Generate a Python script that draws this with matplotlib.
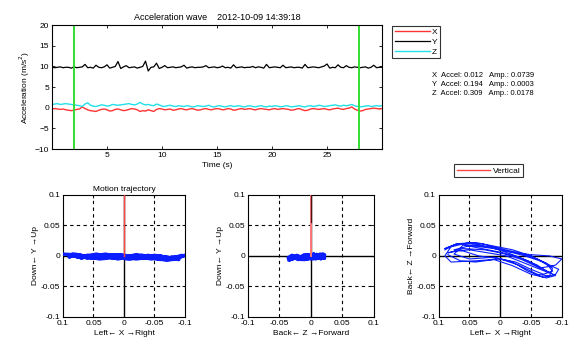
import matplotlib
matplotlib.use("Agg")
import matplotlib.pyplot as plt
import numpy as np
from matplotlib.lines import Line2D

plt.rcParams['font.family'] = ['Liberation Sans', 'DejaVu Sans']
plt.rcParams['font.size'] = 6

# acceleration samples, one every 0.25 s from 0 to 30 s
acc_x = [-0.3, -0.2, -0.3, -0.4, -0.3, -0.5, -0.6, -0.7, -0.6, -0.4, -0.3, 0.2,
         -0.2, -0.5, -0.7, -0.8, -0.9, -0.6, -0.4, -0.3, -0.5, -0.8, -0.7, -0.4,
         -0.3, -0.5, -0.7, -0.6, -0.4, -0.2, -0.3, -0.5, -0.9, -0.7, -0.8, -0.5,
         -0.7, -0.9, -0.4, -0.2, -0.3, -0.5, -0.4, -0.3, -0.6, -0.5, -0.3, -0.2,
         -0.4, -0.5, -0.3, -0.2, -0.4, -0.6, -0.5, -0.3, -0.2, -0.4, -0.5, -0.3,
         -0.2, -0.3, -0.5, -0.4, -0.2, -0.3, -0.6, -0.5, -0.3, -0.2, -0.4, -0.3,
         -0.2, -0.4, -0.5, -0.3, -0.2, -0.3, -0.4, -0.5, -0.3, -0.2, -0.4, -0.3,
         -0.2, -0.3, -0.4, -0.6, -0.5, -0.3, -0.2, -0.5, -0.7, -0.6, -0.3, -0.2,
         -0.3, -0.4, -0.3, -0.2, -0.4, -0.5, -0.3, -0.2, -0.1, -0.3, -0.4, -0.2,
         -0.1, 0.2, -0.3, -0.6, -0.8, -0.7, -0.4, -0.3, -0.2, -0.1, -0.2, -0.3,
         -0.2]
acc_y = [9.8, 9.7, 9.8, 9.9, 9.7, 9.8, 9.8, 9.6, 9.9, 9.7, 9.8, 9.9,
         10.5, 9.7, 9.8, 9.6, 10.3, 9.8, 9.7, 9.9, 10.4, 9.6, 9.8, 10.0,
         11.2, 9.5, 9.9, 10.2, 9.7, 9.8, 9.9, 9.6, 9.8, 10.0, 11.3, 8.9,
         9.8, 9.9, 10.8, 9.5, 9.8, 10.2, 9.7, 9.8, 9.9, 9.7, 9.8, 9.9,
         10.3, 9.6, 9.8, 9.9, 9.7, 9.8, 9.8, 9.9, 10.2, 9.7, 9.8, 9.9,
         9.7, 9.8, 10.1, 9.7, 9.8, 9.6, 10.4, 9.7, 9.8, 9.9, 9.7, 9.8,
         9.8, 10.0, 9.7, 9.9, 9.8, 9.6, 10.5, 9.7, 9.8, 9.9, 9.8, 9.7,
         10.3, 9.7, 9.8, 9.9, 9.7, 9.8, 9.8, 9.6, 10.5, 9.7, 9.8, 9.9,
         9.8, 9.7, 9.9, 10.1, 10.6, 9.6, 9.8, 9.7, 10.4, 9.8, 9.7, 10.2,
         9.8, 9.7, 9.9, 9.8, 9.7, 9.8, 9.9, 9.6, 9.8, 10.3, 9.7, 9.8,
         9.8]
acc_z = [0.8, 0.9, 1.0, 0.8, 0.9, 1.0, 0.9, 0.8, 0.7, 0.6, 0.5, 0.3,
         0.9, 1.2, 0.6, 0.4, 0.3, 0.5, 0.7, 0.6, 0.4, 0.5, 0.8, 0.7,
         0.6, 0.7, 0.8, 0.9, 1.0, 0.8, 0.7, 0.9, 1.3, 0.9, 0.7, 0.8,
         0.6, 0.5, 0.9, 0.7, 0.4, 0.3, 0.5, 0.6, 0.4, 0.3, 0.5, 0.4,
         0.3, 0.5, 0.4, 0.2, 0.3, 0.5, 0.4, 0.3, 0.4, 0.6, 0.3, 0.2,
         0.4, 0.5, 0.3, 0.2, 0.4, 0.5, 0.3, 0.4, 0.5, 0.3, 0.2, 0.4,
         0.5, 0.3, 0.2, 0.4, 0.5, 0.3, 0.2, 0.4, 0.3, 0.5, 0.4, 0.2,
         0.3, 0.5, 0.4, 0.2, 0.3, 0.4, 0.5, 0.3, 0.2, 0.4, 0.5, 0.3,
         0.4, 0.6, 0.5, 0.3, 0.4, 0.5, 0.6, 0.7, 0.5, 0.4, 0.6, 0.5,
         0.6, 0.8, 0.5, 0.3, 0.2, 0.3, 0.4, 0.5, 0.3, 0.4, 0.5, 0.4,
         0.5]
t_end = 30
window_marks = [2.0, 27.9]

stats_lines = ["X  Accel: 0.012   Amp.: 0.0739",
               "Y  Accel: 0.194   Amp.: 0.0003",
               "Z  Accel: 0.309   Amp.: 0.0178"]

# displacement trajectory (several loops)
pos_x = [0.09, 0.07, 0.03, 0.0, -0.03, -0.06, -0.085, -0.08, -0.06, -0.03, 0.0, 0.04, 0.08, 0.09,
         0.08, 0.05, 0.02, -0.01, -0.04, -0.07, -0.095, -0.09, -0.07, -0.045, -0.02, 0.01, 0.05, 0.075,
         0.06, 0.03, 0.0, -0.03, -0.06, -0.08, -0.065, -0.04, -0.01, 0.02, 0.05, 0.07,
         0.085, 0.06, 0.025, -0.005, -0.035, -0.065, -0.09, -0.1, -0.08, -0.05, -0.02, 0.01, 0.04, 0.07, 0.09,
         0.07, 0.04, 0.01, -0.02, -0.05, -0.075, -0.085, -0.07, -0.05, -0.025, 0.005, 0.035, 0.06,
         0.075, 0.045, 0.015, -0.015, -0.045, -0.07, -0.09, -0.075, -0.05, -0.02, 0.01, 0.04, 0.065, 0.085,
         0.1]
pos_y = [0.002, -0.003, 0.003, -0.004, 0.001, -0.005, -0.002, -0.006, 0.000, -0.004, -0.001, -0.005, 0.002, -0.002,
         0.003, -0.004, 0.002, -0.005, -0.001, -0.006, 0.001, -0.004, -0.007, -0.002, -0.005, 0.001, -0.003, 0.002,
         -0.004, 0.002, -0.003, 0.000, -0.006, -0.002, -0.005, 0.001, -0.004, 0.002, -0.003, -0.001,
         0.003, -0.002, 0.001, -0.005, -0.001, -0.006, -0.003, 0.001, -0.005, -0.002, 0.002, -0.004, 0.001, -0.003, 0.002,
         -0.003, 0.002, -0.005, 0.001, -0.004, -0.006, -0.002, -0.005, 0.000, -0.003, 0.002, -0.004, 0.001,
         -0.002, 0.003, -0.004, 0.000, -0.005, -0.002, -0.006, -0.003, 0.001, -0.004, 0.002, -0.003, -0.001, 0.002,
         0.003]
pos_z = [0.01, 0.02, 0.02, 0.012, 0.005, -0.005, -0.02, -0.033, -0.03, -0.015, -0.005, -0.008, -0.01, 0.0,
         0.015, 0.022, 0.015, 0.008, 0.0, -0.01, -0.022, -0.03, -0.035, -0.025, -0.01, -0.002, -0.005, 0.003,
         0.018, 0.012, 0.006, -0.002, -0.015, -0.028, -0.022, -0.012, 0.0, 0.005, 0.01, 0.008,
         0.005, 0.012, 0.01, 0.004, -0.006, -0.02, -0.015, -0.005, 0.0, 0.002, 0.006, 0.012, 0.016, 0.02, 0.012,
         0.02, 0.022, 0.016, 0.01, 0.0, -0.012, -0.025, -0.03, -0.022, -0.01, -0.004, 0.0, 0.008,
         0.01, 0.018, 0.014, 0.004, -0.008, -0.022, -0.032, -0.036, -0.03, -0.016, -0.006, -0.01, -0.008, 0.002,
         0.004]

vertical_y = [0, 0.1]
gravity_y = [0.055, 0.1]
lim_ticks = [-0.1, -0.05, 0, 0.05, 0.1]
tick_text = ['-0.1', '-0.05', '0', '0.05', '0.1']

fig = plt.figure(figsize=(5.75, 3.45), dpi=100)

# ---- acceleration wave
ax = fig.add_axes([0.0904, 0.568, 0.574, 0.359])
t = np.linspace(0, t_end, len(acc_x))
lx, = ax.plot(t, acc_x, color='#ff3333', lw=1.0)
ly, = ax.plot(t, acc_y, color='black', lw=0.9)
lz, = ax.plot(t, acc_z, color='#22e0e8', lw=1.0)
for m in window_marks:
    ax.axvline(m, color='#33dd33', lw=1.4)
ax.set_xlim(0, t_end)
ax.set_ylim(-10, 20)
ax.set_xticks([5, 10, 15, 20, 25])
ax.set_yticks([-10, -5, 0, 5, 10, 15, 20])
ax.tick_params(direction='in', top=True, right=True, length=2.5, width=0.6, pad=2)
ax.set_xlabel('Time (s)', labelpad=2)
ax.set_ylabel('Acceleration (m/s$^2$)', labelpad=2)
ax.set_title('Acceleration wave    2012-10-09 14:39:18', fontsize=6.5, pad=4)
for s in ax.spines.values():
    s.set_linewidth(0.8)
leg = ax.legend([lx, ly, lz], ['X', 'Y', 'Z'], loc='upper left', bbox_to_anchor=(1.018, 1.03),
                frameon=True, fancybox=False, edgecolor='black', handlelength=4.2,
                borderpad=0.3, labelspacing=0.25, handletextpad=0.3, fontsize=6)
leg.get_frame().set_linewidth(0.8)
for i, line in enumerate(stats_lines):
    fig.text(0.751, 0.782 - i * 0.027, line, fontsize=5.5, va='center', ha='left')

# ---- trajectory views
views = [
    ([0.1096, 0.0812, 0.212, 0.354], pos_x, pos_y, True, 'Left\u2190 X \u2192Right', 'Down\u2190 Y \u2192Up'),
    ([0.431, 0.0812, 0.219, 0.354], pos_z, pos_y, False, 'Back\u2190 Z \u2192Forward', 'Down\u2190 Y \u2192Up'),
    ([0.763, 0.0812, 0.214, 0.354], pos_x, pos_z, True, 'Left\u2190 X \u2192Right', 'Back\u2190 Z \u2192Forward'),
]
axes = []
for rect, hx, vy, flip, xl, yl in views:
    a = fig.add_axes(rect)
    a.set_xlim(-0.1, 0.1)
    a.set_ylim(-0.1, 0.1)
    if flip:
        a.invert_xaxis()
    for g in [-0.05, 0.05]:
        a.axvline(g, color='black', lw=0.8, ls=(0, (3, 3)))
        a.axhline(g, color='black', lw=0.8, ls=(0, (3, 3)))
    a.axvline(0, color='black', lw=1.0)
    a.axhline(0, color='black', lw=1.0)
    a.set_xticks(lim_ticks)
    a.set_xticklabels(tick_text)
    a.set_yticks(lim_ticks)
    a.set_yticklabels(tick_text)
    a.tick_params(direction='in', top=True, right=True, length=2.5, width=0.6, pad=2)
    a.set_xlabel(xl, labelpad=2)
    a.set_ylabel(yl, labelpad=1)
    for s in a.spines.values():
        s.set_linewidth(0.8)
    axes.append(a)

axes[0].plot(pos_x, pos_y, color='#0a1eff', lw=2.4, zorder=3)
axes[0].plot([0, 0], vertical_y, color='#ff4444', lw=1.0, zorder=4)
axes[0].set_title('Motion trajectory', fontsize=6, pad=3)

axes[1].plot(pos_z, pos_y, color='#0a1eff', lw=2.4, zorder=3)
axes[1].plot([0, 0], vertical_y, color='#ff7777', lw=1.4, zorder=4)
axes[1].plot([0, 0], gravity_y, color='#551111', lw=0.9, zorder=5)

axes[2].plot(pos_x[:-1], pos_z[:-1], color='#0a1eff', lw=0.8, zorder=3)

vleg = fig.legend([Line2D([], [], color='#ff4444', lw=1.0)], ['Vertical'], loc='center',
                  bbox_to_anchor=(0.85, 0.505), frameon=True, fancybox=False, edgecolor='black',
                  handlelength=4.0, borderpad=0.3, handletextpad=0.4, fontsize=6)
vleg.get_frame().set_linewidth(0.8)

fig.savefig('out.png', dpi=100)
